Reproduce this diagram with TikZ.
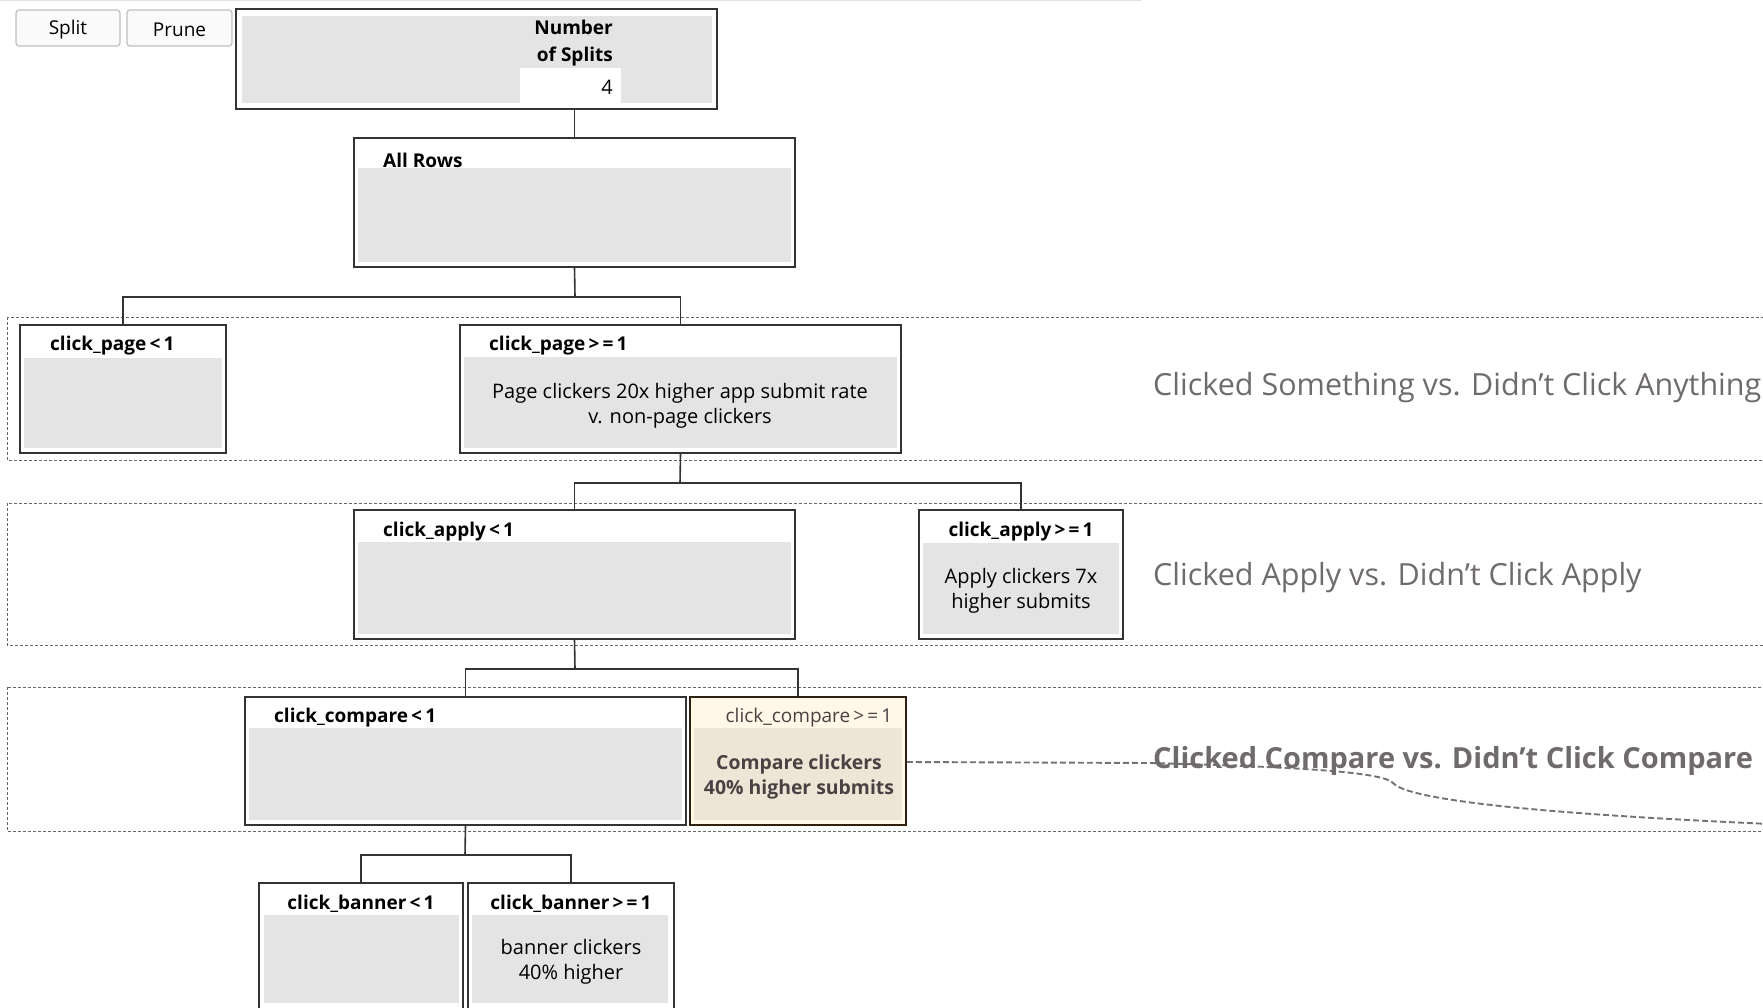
\documentclass[tikz,border=0pt]{standalone}
\usepackage{fontspec}
\setmainfont{Open Sans}
\usetikzlibrary{fit}
\definecolor{cgray}{HTML}{E4E4E4}
\definecolor{bord}{HTML}{333333}
\definecolor{lblgray}{HTML}{6F6B6B}
\definecolor{creamout}{HTML}{FFF8E8}
\definecolor{creamin}{HTML}{EDE6D6}
\definecolor{cmptext}{HTML}{4A4242}
\tikzset{
  tbox/.style={draw=bord, line width=1.6pt, fill=white, inner sep=0pt},
  conn/.style={draw=bord, line width=1.6pt},
  band/.style={draw=black!60, line width=0.9pt, dash pattern=on 3pt off 2pt},
  btn/.style={draw=black!25, line width=1.2pt, rounded corners=3pt, fill=black!2, inner sep=0pt},
  ttl/.style={font=\bfseries\fontsize{19}{22}\selectfont, inner sep=0pt, text=black},
  body/.style={font=\fontsize{20}{25}\selectfont, align=center, inner sep=0pt},
  lbl/.style={font=\fontsize{30.5}{34}\selectfont, text=lblgray, anchor=west, inner sep=0pt},
  curvy/.style={draw=black!55, line width=1.9pt, dash pattern=on 6pt off 3pt}
}
\newcommand{\grayin}[2]{% node, top offset
  \fill[cgray] ([xshift=5pt,yshift=-#2pt]#1.north west) rectangle ([xshift=-5pt,yshift=6pt]#1.south east);}
\begin{document}
\begin{tikzpicture}[x=1pt,y=-1pt]
\useasboundingbox (0,0) rectangle (1763,1008);
\clip (0,0) rectangle (1763,1008);
% top line
\draw[black!12, line width=1pt] (0,1) -- (1141,1);
% bands
\draw[band] (7,317) rectangle (1790,460);
\draw[band] (7,503) rectangle (1790,645);
\draw[band] (7,687) rectangle (1790,831);
% buttons
\node[btn, fit={(16,10) (120,46)}] (split) {};
\node[font=\fontsize{19}{20}\selectfont, inner sep=0pt] (splitt) at ([yshift=-2pt]split.center) {Split};
\node[btn, fit={(127,10) (232,46)}] (prune) {};
\node[font=\fontsize{19}{20}\selectfont, inner sep=0pt] (prunet) at ([yshift=-2pt]prune.center) {Prune};
% top box
\node[tbox, fit={(236,9) (717,109)}] (top) {};
\fill[cgray] (242,16) rectangle (520,103);
\fill[cgray] (520,16) rectangle (621,68);
\fill[cgray] (621,16) rectangle (712,103);
\node[ttl, anchor=east, align=right, font=\bfseries\fontsize{19}{27}\selectfont] (nsplit) at (613,43) {Number\\of Splits};
\node[body, anchor=east] (four) at (613,87) {4};
% All rows
\node[tbox, fit={(354,138) (795,267)}] (allrows) {};
\grayin{allrows}{31}
\node[ttl, anchor=west] (allrowst) at (383,160) {All Rows};
% level 1
\node[tbox, fit={(20,325) (226,453)}] (pg0) {};
\grayin{pg0}{34}
\node[ttl, anchor=west] (pg0t) at (50,346) {click\_page\,<\,1};
\node[tbox, fit={(460,325) (901,453)}] (pg1) {};
\grayin{pg1}{33}
\node[ttl, anchor=west] (pg1t) at (489,346) {click\_page\,>\,=\,1};
\node[body] (pg1b) at (680,406) {Page clickers 20x higher app submit rate\\v. non-page clickers};
\node[lbl] (lab1) at (1153,388) {Clicked Something vs. Didn’t Click Anything};
% level 2
\node[tbox, fit={(354,510) (795,639)}] (ap0) {};
\grayin{ap0}{33}
\node[ttl, anchor=west] (ap0t) at (383,532) {click\_apply\,<\,1};
\node[tbox, fit={(919,510) (1123,639)}] (ap1) {};
\grayin{ap1}{34}
\node[ttl] (ap1t) at (1021,532) {click\_apply\,>\,=\,1};
\node[body] (ap1b) at (1021,591) {Apply clickers 7x\\higher submits};
\node[lbl] (lab2) at (1153,578) {Clicked Apply vs. Didn’t Click Apply};
% level 3
\node[tbox, fit={(245,697) (686,825)}] (cm0) {};
\grayin{cm0}{32}
\node[ttl, anchor=west] (cm0t) at (274,718) {click\_compare\,<\,1};
\node[tbox, draw=black!75!brown, fill=creamout, fit={(690,697) (906,825)}] (cm1) {};
\fill[creamin] ([xshift=5pt,yshift=-32pt]cm1.north west) rectangle ([xshift=-5pt,yshift=6pt]cm1.south east);
\node[ttl, font=\fontsize{19}{22}\selectfont, text=cmptext] (cm1t) at (809,718) {click\_compare\,>\,=\,1};
\node[body, font=\bfseries\fontsize{19.4}{25}\selectfont, text=cmptext] (cm1b) at (799,777) {Compare clickers\\40\% higher submits};
\coordinate (cend) at (1770,824);
\draw[curvy] (cm1.east |- 0,762) -- (1150,763) .. controls (1300,767) and (1383,772) .. (1393,783) .. controls (1405,797) and (1500,812) .. (cend);
\node[lbl, font=\bfseries\fontsize{29}{32}\selectfont] (lab3) at (1153,761) {Clicked Compare vs. Didn’t Click Compare};
% level 4
\node[tbox, fit={(259,883) (463,1030)}] (bn0) {};
\fill[cgray] (264,915) rectangle (459,1003);
\node[ttl] (bn0t) at (361,904) {click\_banner\,<\,1};
\node[tbox, fit={(468,883) (674,1030)}] (bn1) {};
\fill[cgray] (472,915) rectangle (668,1003);
\node[ttl] (bn1t) at (571,904) {click\_banner\,>\,=\,1};
\node[body] (bn1b) at (571,962) {banner clickers\\40\% higher};
% connectors
\draw[conn] (allrows.north) -- (allrows.north |- top.south);
\coordinate (b1) at (575,297);
\draw[conn] (allrows.south) -- (b1);
\draw[conn] (pg0.north) |- (b1) -| (pg1.north);
\coordinate (b2) at (680,483);
\draw[conn] (pg1.south) -- (b2);
\draw[conn] (ap0.north) |- (b2) -| (ap1.north);
\coordinate (b3) at (575,669);
\draw[conn] (ap0.south) -- (b3);
\draw[conn] (cm0.north) |- (b3) -| (cm1.north);
\coordinate (b4) at (465,855);
\draw[conn] (cm0.south) -- (b4);
\draw[conn] (bn0.north) |- (b4) -| (bn1.north);
\end{tikzpicture}
\end{document}
